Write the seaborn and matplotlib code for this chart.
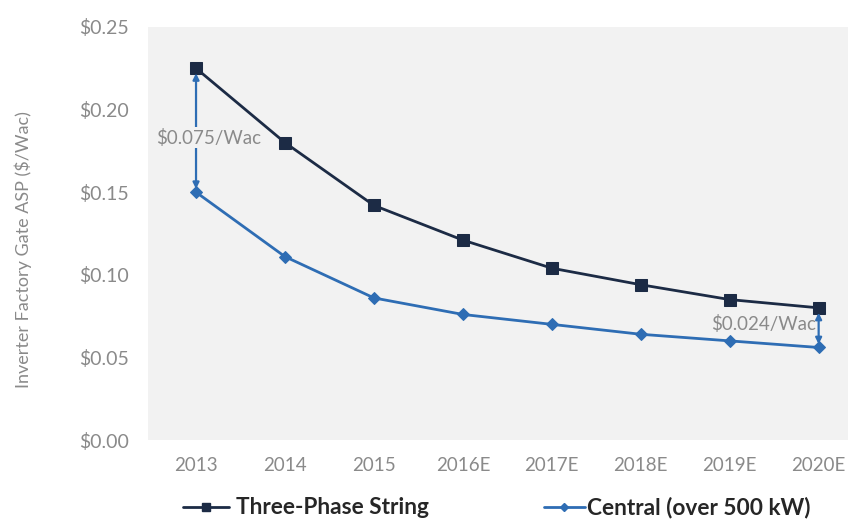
import matplotlib
matplotlib.use("Agg")
import matplotlib.pyplot as plt
import seaborn as sns
import pandas as pd
from matplotlib.lines import Line2D

years = ["2013", "2014", "2015", "2016E", "2017E", "2018E", "2019E", "2020E"]
three_phase = [0.225, 0.180, 0.142, 0.121, 0.104, 0.094, 0.085, 0.080]
central = [0.150, 0.111, 0.086, 0.076, 0.070, 0.064, 0.060, 0.056]
yticks = [0.00, 0.05, 0.10, 0.15, 0.20, 0.25]
series_names = ["Three-Phase String", "Central (over 500 kW)"]

sns.set_theme(style="white")
plt.rcParams["font.family"] = ["Lato", "DejaVu Sans"]

c_three = "#1c2b45"
c_central = "#2e6db4"
grey = "#8a8a8a"

df = pd.DataFrame({"year": years, "three": three_phase, "central": central})
df["x"] = range(len(years))

fig = plt.figure(figsize=(8.48, 5.2), dpi=100)
ax = fig.add_axes([148 / 848, (520 - 440) / 520, (848 - 148) / 848, 413 / 520])
ax.set_facecolor("#f2f2f2")

sns.lineplot(data=df, x="x", y="three", ax=ax, color=c_three, marker="s",
             markersize=8, markeredgecolor=c_three, linewidth=2)
sns.lineplot(data=df, x="x", y="central", ax=ax, color=c_central, marker="D",
             markersize=6, markeredgecolor=c_central, linewidth=2)

ax.set_xlim(-0.54, 7.33)
ax.set_ylim(0, 0.25)
ax.set_xticks(df["x"])
ax.set_xticklabels(years)
ax.set_yticks(yticks)
ax.set_yticklabels([f"\\${v:.2f}" for v in yticks])
ax.tick_params(axis="both", colors=grey, length=0)
ax.tick_params(axis="y", pad=14, labelsize=14)
ax.tick_params(axis="x", pad=12, labelsize=13.5)
for s in ax.spines.values():
    s.set_visible(False)
ax.set_xlabel("")
ax.set_ylabel("Inverter Factory Gate ASP (\\$/Wac)", color=grey, fontsize=13)
ax.yaxis.set_label_coords(-0.166, 0.46)

# gap arrows between the two series
first, last = 0, len(years) - 1
ax.annotate("", xy=(first, three_phase[first] - 0.003), xytext=(first, central[first] + 0.002),
            arrowprops=dict(arrowstyle="<|-|>", color=c_central, lw=1.6,
                            mutation_scale=9, shrinkA=0, shrinkB=0))
gap1 = three_phase[first] - central[first]
ax.text(first + 0.14, 0.183, f"\\${gap1:.3f}/Wac", color=grey, fontsize=13.5,
        ha="center", va="center",
        bbox=dict(facecolor="#f2f2f2", edgecolor="none", pad=1))

ax.annotate("", xy=(last, three_phase[last] - 0.003), xytext=(last, central[last] + 0.002),
            arrowprops=dict(arrowstyle="<|-|>", color=c_central, lw=1.6,
                            mutation_scale=9, shrinkA=0, shrinkB=0))
gap2 = three_phase[last] - central[last]
ax.text(last - 0.03, 0.0705, f"\\${gap2:.3f}/Wac", color=grey, fontsize=13.5,
        ha="right", va="center")

# legend entries, one per series, placed separately below the plot
handles = [
    Line2D([], [], color=c_three, marker="s", markersize=6, linewidth=2),
    Line2D([], [], color=c_central, marker="D", markersize=4, linewidth=2),
]
anchors = [(183 / 848, 1 - 508 / 520), (544 / 848, 1 - 508 / 520)]
hlens = [2.05, 1.8]
pads = [0.3, 0.1]
for h, name, anc, hl, pd_ in zip(handles, series_names, anchors, hlens, pads):
    leg = fig.legend([h], [name], loc="center left", bbox_to_anchor=anc, frameon=False,
                     handlelength=hl, handletextpad=pd_, borderaxespad=0, borderpad=0,
                     prop={"weight": "bold", "size": 16.3})
    for t in leg.get_texts():
        t.set_color("#262626")

fig.savefig("out.png", dpi=100)
